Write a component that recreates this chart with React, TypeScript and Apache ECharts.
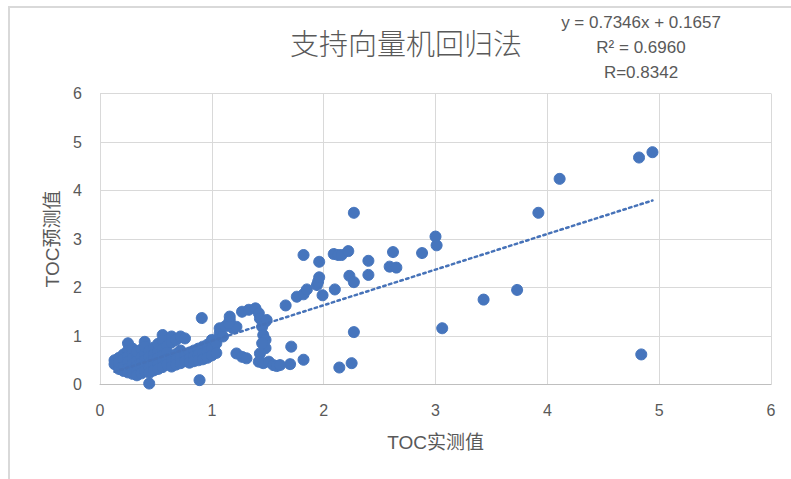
import React, { useEffect, useRef } from "react";
import * as echarts from "echarts";

// Measured TOC (x) and SVR-predicted TOC (y), low-value cluster
const clusterMeasured = [
  0.13, 0.13,
  0.17, 0.17, 0.17, 0.17,
  0.21, 0.21, 0.21, 0.21, 0.21,
  0.25, 0.25, 0.25, 0.25, 0.25, 0.25,
  0.29, 0.29, 0.29, 0.29, 0.29, 0.29,
  0.33, 0.33, 0.33, 0.33, 0.33, 0.33,
  0.37, 0.37, 0.37, 0.37, 0.37,
  0.40, 0.40, 0.40, 0.40, 0.40, 0.40,
  0.44, 0.44, 0.44, 0.44, 0.44, 0.44,
  0.48, 0.48, 0.48, 0.48, 0.48,
  0.52, 0.52, 0.52, 0.52, 0.52,
  0.56, 0.56, 0.56, 0.56, 0.56, 0.56,
  0.60, 0.60, 0.60, 0.60,
  0.64, 0.64, 0.64, 0.64, 0.64,
  0.68, 0.68, 0.68, 0.68,
  0.72, 0.72, 0.72, 0.72,
  0.76, 0.76, 0.76,
  0.80, 0.80, 0.80,
  0.84, 0.84, 0.84,
  0.88, 0.88, 0.88, 0.89,
  0.92, 0.92, 0.92, 0.91,
  0.96, 0.96, 0.96,
  1.00, 1.00, 1.00,
  1.04, 1.04,
  1.07, 1.07,
];
const clusterPredicted = [
  0.50, 0.42,
  0.55, 0.38, 0.32, 0.46,
  0.62, 0.28, 0.44, 0.52, 0.36,
  0.85, 0.70, 0.58, 0.47, 0.33, 0.25,
  0.66, 0.54, 0.41, 0.30, 0.22, 0.74,
  0.60, 0.49, 0.38, 0.27, 0.19, 0.68,
  0.72, 0.56, 0.44, 0.33, 0.23,
  0.88, 0.63, 0.50, 0.39, 0.28, 0.78,
  0.02, 0.70, 0.57, 0.45, 0.34, 0.24,
  0.76, 0.62, 0.51, 0.40, 0.29,
  0.68, 0.55, 0.44, 0.32, 0.84,
  1.02, 0.90, 0.73, 0.60, 0.48, 0.36,
  0.80, 0.66, 0.53, 0.41,
  0.99, 0.87, 0.58, 0.46, 0.37,
  0.92, 0.63, 0.50, 0.41,
  0.99, 0.70, 0.56, 0.44,
  0.95, 0.60, 0.48,
  0.66, 0.53, 0.45,
  0.70, 0.58, 0.48,
  0.74, 0.62, 0.50, 0.09,
  0.78, 0.64, 0.52, 1.37,
  0.82, 0.68, 0.55,
  0.92, 0.75, 0.60,
  0.85, 0.65,
  1.16, 1.05,
];

// Mid and high range samples
const upperMeasured = [
  1.10, 1.12, 1.16, 1.19, 1.22, 1.15, 1.16,
  1.27, 1.33, 1.39, 1.42, 1.43, 1.48, 1.45, 1.46, 1.48, 1.48, 1.43, 1.45, 1.49,
  1.22, 1.27, 1.31, 1.42, 1.46, 1.51, 1.55, 1.58,
  1.66, 1.71, 1.82, 1.70, 1.61, 2.14, 2.25, 2.27,
  1.76, 1.82, 1.85, 1.99, 2.10, 1.94, 1.95, 1.96, 2.23, 2.27, 2.40, 2.59, 2.65,
  2.62, 2.40, 2.09, 2.13, 2.16, 2.22, 1.96, 1.82, 2.27,
  2.88, 3.00, 3.01, 3.92, 4.11, 4.82, 4.94, 3.73, 3.43, 3.06, 4.84,
];
const upperPredicted = [
  0.99, 1.20, 1.33, 1.16, 1.19, 1.26, 1.40,
  1.50, 1.54, 1.57, 1.47, 1.36, 1.30, 1.19, 1.02, 0.92, 0.75, 0.64, 0.85, 1.33,
  0.64, 0.57, 0.54, 0.47, 0.44, 0.47, 0.40, 0.38,
  1.63, 0.78, 0.51, 0.42, 0.40, 0.35, 0.44, 1.08,
  1.81, 1.86, 1.96, 1.84, 1.96, 2.05, 2.12, 2.21, 2.24, 2.11, 2.26, 2.43, 2.41,
  2.73, 2.55, 2.69, 2.67, 2.67, 2.75, 2.53, 2.67, 3.54,
  2.71, 3.05, 2.87, 3.54, 4.24, 4.68, 4.79, 1.95, 1.75, 1.16, 0.62,
];

// Linear trendline fitted to the samples
const slope = 0.7346;
const intercept = 0.1657;
const equationLines = ["y = 0.7346x + 0.1657", "R\u00b2 = 0.6960", "R=0.8342"];
const axisTicks = [0, 1, 2, 3, 4, 5, 6];

const LATIN = "'Liberation Sans', 'Noto Sans CJK SC', sans-serif";
const GREY_TEXT = "#595959";
const MARKER_BLUE = "#4675bd";

export default function App() {
  const ref = useRef<HTMLDivElement>(null);

  useEffect(() => {
    if (!ref.current) return;
    const chart = echarts.init(ref.current, undefined, { renderer: "svg" });

    const measured = [...clusterMeasured, ...upperMeasured];
    const predicted = [...clusterPredicted, ...upperPredicted];
    const points = measured.map((x, i) => [x, predicted[i]]);
    const xMin = Math.min(...measured);
    const xMax = Math.max(...measured);
    const trend = [
      [xMin, slope * xMin + intercept],
      [xMax, slope * xMax + intercept],
    ];

    chart.setOption({
      animation: false,
      backgroundColor: "#ffffff",
      title: {
        text: "支持向量机回归法",
        left: 406,
        top: 27,
        padding: 0,
        textAlign: "center",
        textStyle: {
          fontFamily: "'Noto Sans CJK SC', sans-serif",
          fontSize: 29,
          fontWeight: 300,
          color: GREY_TEXT,
        },
      },
      grid: { left: 100, right: 20, top: 93.5, bottom: 94.5, containLabel: false },
      xAxis: {
        type: "value",
        min: axisTicks[0],
        max: axisTicks[axisTicks.length - 1],
        interval: 1,
        name: "TOC实测值",
        nameLocation: "middle",
        nameGap: 48,
        nameTextStyle: { fontFamily: LATIN, fontSize: 19, color: GREY_TEXT },
        axisLine: { show: true, lineStyle: { color: "#bfbfbf", width: 1 } },
        axisTick: { show: false },
        axisLabel: { margin: 18, fontFamily: LATIN, fontSize: 16, color: GREY_TEXT },
        splitLine: { show: true, lineStyle: { color: "#d9d9d9", width: 1 } },
      },
      yAxis: {
        type: "value",
        min: axisTicks[0],
        max: axisTicks[axisTicks.length - 1],
        interval: 1,
        name: "TOC预测值",
        nameLocation: "middle",
        nameGap: 34,
        nameTextStyle: { fontFamily: LATIN, fontSize: 19, color: GREY_TEXT },
        axisLine: { show: false },
        axisTick: { show: false },
        axisLabel: { margin: 18, fontFamily: LATIN, fontSize: 16, color: GREY_TEXT },
        splitLine: { show: true, lineStyle: { color: "#d9d9d9", width: 1 } },
      },
      graphic: [
        {
          type: "rect",
          shape: { x: 9, y: 7, width: 800, height: 500 },
          style: { fill: "none", stroke: "#d9d9d9", lineWidth: 2 },
          silent: true,
          z: -10,
        },
        ...equationLines.map((line, i) => ({
          type: "text",
          x: 641,
          y: 22 + i * 25,
          style: {
            text: line,
            fontFamily: LATIN,
            fontSize: 17,
            fill: GREY_TEXT,
            textAlign: "center",
            textVerticalAlign: "middle",
          },
        })),
      ],
      series: [
        {
          type: "scatter",
          data: points,
          symbol: "circle",
          symbolSize: 11,
          itemStyle: {
            color: MARKER_BLUE,
            opacity: 1,
            borderColor: MARKER_BLUE,
            borderWidth: 1,
          },
          z: 2,
        },
        {
          type: "line",
          data: trend,
          symbol: "none",
          lineStyle: { color: "#4672b8", width: 2.5, type: [2.5, 3.5], cap: "round" },
          z: 3,
        },
      ],
    });

    return () => chart.dispose();
  }, []);

  return (
    <div
      ref={ref}
      style={{ position: "fixed", left: 0, top: 0, width: 791, height: 479 }}
    />
  );
}
